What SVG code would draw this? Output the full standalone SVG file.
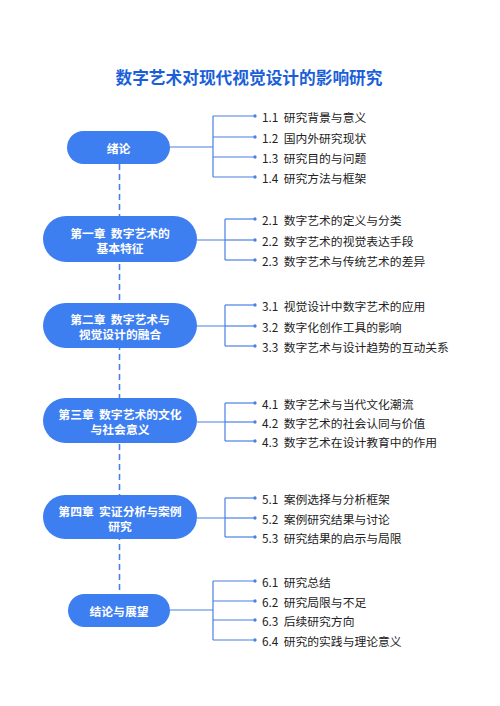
<svg xmlns="http://www.w3.org/2000/svg" width="500" height="706" viewBox="0 0 500 706">
<defs>
<marker id="dot" viewBox="0 0 6 6" refX="3" refY="3" markerWidth="3.2" markerHeight="3.2" markerUnits="strokeWidth"><circle cx="3" cy="3" r="2.6" fill="#4a7fe6"/></marker>
</defs>
<style>
text{font-family:"Noto Sans CJK SC","Noto Sans",sans-serif}
.title{font-size:16.7px;font-weight:700;fill:#1b5fd8}
.pill{fill:#3d7ef0}
.nt{font-size:11.8px;font-weight:700;fill:#fff;text-anchor:middle;dominant-baseline:central}
.it{font-size:11.8px;fill:#222;dominant-baseline:central}
.ln{fill:none;stroke:#4a7fe6;stroke-width:1.2}
.br{fill:none;stroke:#4a7fe6;stroke-width:1.2;marker-end:url(#dot)}
.dash{stroke:#4a7fe6;stroke-width:1.6;stroke-dasharray:6 4;fill:none}
</style>
<rect width="500" height="706" fill="#fff"/>
<text class="title" x="249" y="77" text-anchor="middle" dominant-baseline="central">数字艺术对现代视觉设计的影响研究</text>
<g id="connectors">
<line class="dash" x1="119.5" y1="164" x2="119.5" y2="594"/>
<path class="ln" d="M170 147H213M213 116V177"/>
<path class="br" d="M213 116H255"/><path class="br" d="M213 137H255"/><path class="br" d="M213 157H255"/><path class="br" d="M213 177H255"/>
<path class="ln" d="M197 240H225M225 219V260"/>
<path class="br" d="M225 219H255"/><path class="br" d="M225 240H255"/><path class="br" d="M225 260H255"/>
<path class="ln" d="M197 326H225M225 305V346"/>
<path class="br" d="M225 305H255"/><path class="br" d="M225 326H255"/><path class="br" d="M225 346H255"/>
<path class="ln" d="M197 422H225M225 403V441"/>
<path class="br" d="M225 403H255"/><path class="br" d="M225 422H255"/><path class="br" d="M225 441H255"/>
<path class="ln" d="M197 518H225M225 498V537"/>
<path class="br" d="M225 498H255"/><path class="br" d="M225 518H255"/><path class="br" d="M225 537H255"/>
<path class="ln" d="M170 610H213M213 581V640"/>
<path class="br" d="M213 581H255"/><path class="br" d="M213 601H255"/><path class="br" d="M213 620H255"/><path class="br" d="M213 640H255"/>
</g>
<g id="n1"><rect class="pill" x="67" y="131" width="103" height="33" rx="16.5"/><text class="nt" x="118.5" y="147.5">绪论</text></g>
<g id="n2"><rect class="pill" x="43" y="216" width="154" height="46" rx="23"/><text class="nt" xml:space="preserve"><tspan x="120" y="231.5">第一章  数字艺术的</tspan><tspan x="120" y="246.5">基本特征</tspan></text></g>
<g id="n3"><rect class="pill" x="43" y="303" width="154" height="45" rx="22.5"/><text class="nt" xml:space="preserve"><tspan x="120" y="318">第二章  数字艺术与</tspan><tspan x="120" y="333">视觉设计的融合</tspan></text></g>
<g id="n4"><rect class="pill" x="43" y="398" width="154" height="45" rx="22.5"/><text class="nt" xml:space="preserve"><tspan x="120" y="413">第三章  数字艺术的文化</tspan><tspan x="120" y="428">与社会意义</tspan></text></g>
<g id="n5"><rect class="pill" x="43" y="495" width="154" height="44" rx="22"/><text class="nt" xml:space="preserve"><tspan x="120" y="510">第四章  实证分析与案例</tspan><tspan x="120" y="525">研究</tspan></text></g>
<g id="n6"><rect class="pill" x="68" y="594" width="102" height="33" rx="16.5"/><text class="nt" x="119" y="610.5">结论与展望</text></g>
<g id="items">
<text class="it" x="262" y="116" xml:space="preserve">1.1  研究背景与意义</text>
<text class="it" x="262" y="137" xml:space="preserve">1.2  国内外研究现状</text>
<text class="it" x="262" y="157" xml:space="preserve">1.3  研究目的与问题</text>
<text class="it" x="262" y="177" xml:space="preserve">1.4  研究方法与框架</text>
<text class="it" x="262" y="219" xml:space="preserve">2.1  数字艺术的定义与分类</text>
<text class="it" x="262" y="240" xml:space="preserve">2.2  数字艺术的视觉表达手段</text>
<text class="it" x="262" y="260" xml:space="preserve">2.3  数字艺术与传统艺术的差异</text>
<text class="it" x="262" y="305" xml:space="preserve">3.1  视觉设计中数字艺术的应用</text>
<text class="it" x="262" y="326" xml:space="preserve">3.2  数字化创作工具的影响</text>
<text class="it" x="262" y="346" xml:space="preserve">3.3  数字艺术与设计趋势的互动关系</text>
<text class="it" x="262" y="403" xml:space="preserve">4.1  数字艺术与当代文化潮流</text>
<text class="it" x="262" y="422" xml:space="preserve">4.2  数字艺术的社会认同与价值</text>
<text class="it" x="262" y="441" xml:space="preserve">4.3  数字艺术在设计教育中的作用</text>
<text class="it" x="262" y="498" xml:space="preserve">5.1  案例选择与分析框架</text>
<text class="it" x="262" y="518" xml:space="preserve">5.2  案例研究结果与讨论</text>
<text class="it" x="262" y="537" xml:space="preserve">5.3  研究结果的启示与局限</text>
<text class="it" x="262" y="581" xml:space="preserve">6.1  研究总结</text>
<text class="it" x="262" y="601" xml:space="preserve">6.2  研究局限与不足</text>
<text class="it" x="262" y="620" xml:space="preserve">6.3  后续研究方向</text>
<text class="it" x="262" y="640" xml:space="preserve">6.4  研究的实践与理论意义</text>
</g>
</svg>
